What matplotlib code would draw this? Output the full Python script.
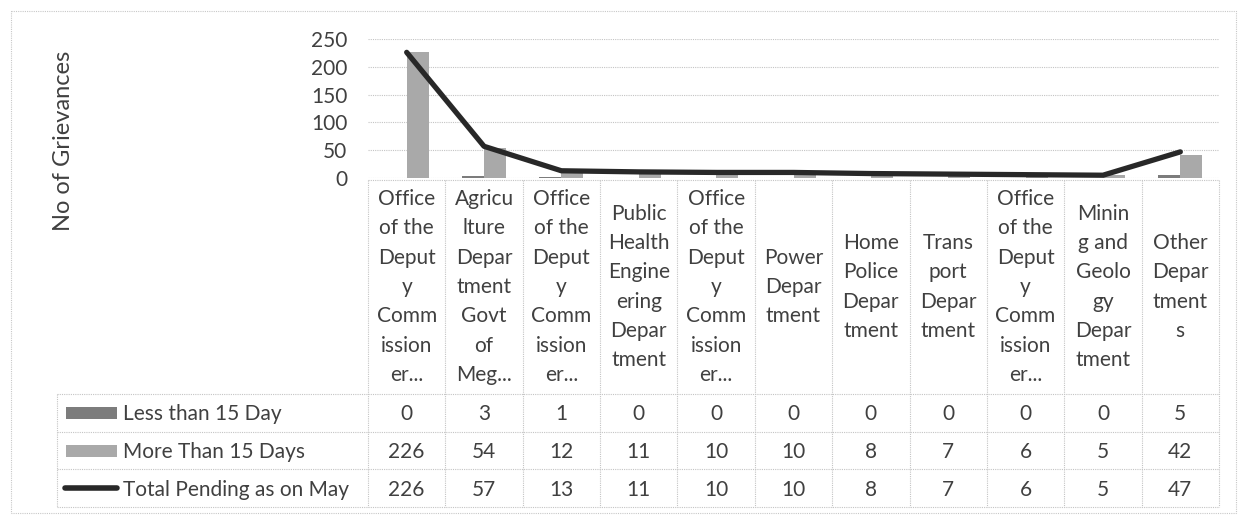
import numpy as np
import matplotlib.pyplot as plt
from matplotlib import transforms
from matplotlib.patches import Rectangle

# wrapped category labels, as they appear in the header cells
departments = [
    ["Office", "of the", "Deput", "y", "Comm", "ission", "er..."],
    ["Agricu", "lture", "Depar", "tment", "Govt", "of", "Meg..."],
    ["Office", "of the", "Deput", "y", "Comm", "ission", "er..."],
    ["Public", "Health", "Engine", "ering", "Depar", "tment"],
    ["Office", "of the", "Deput", "y", "Comm", "ission", "er..."],
    ["Power", "Depar", "tment"],
    ["Home", "Police", "Depar", "tment"],
    ["Trans", "port", "Depar", "tment"],
    ["Office", "of the", "Deput", "y", "Comm", "ission", "er..."],
    ["Minin", "g and", "Geolo", "gy", "Depar", "tment"],
    ["Other", "Depar", "tment", "s"],
]
series_names = ["Less than 15 Day", "More Than 15 Days", "Total Pending as on May"]
less_15 = [0, 3, 1, 0, 0, 0, 0, 0, 0, 0, 5]
more_15 = [226, 54, 12, 11, 10, 10, 8, 7, 6, 5, 42]
total = [226, 57, 13, 11, 10, 10, 8, 7, 6, 5, 47]
y_ticks = [0, 50, 100, 150, 200, 250]

W, H = 1241, 516
plt.rcParams['font.family'] = ['Lato', 'DejaVu Sans']
txt = '#404040'
grid_c = '#c4c4c4'
c_less = '#7c7c7c'
c_more = '#a9a9a9'
c_line = '#282828'
fs = 15

fig = plt.figure(figsize=(W / 100, H / 100), dpi=100)

# overlay in pixel units for the table / frame
ov = fig.add_axes([0, 0, 1, 1])
ov.set_xlim(0, W)
ov.set_ylim(H, 0)
ov.axis('off')

ax = fig.add_axes([368 / W, (H - 178) / H, (1219 - 368) / W, (178 - 39) / H])
ax.patch.set_alpha(0)
x = np.arange(len(total))
bw = 0.285
ax.bar(x - bw / 2, less_15, bw, color=c_less)
ax.bar(x + bw / 2, more_15, bw, color=c_more)
ax.plot(x, total, color=c_line, lw=3.8, solid_capstyle='round', solid_joinstyle='round')
ax.set_xlim(-0.5, len(total) - 0.5)
ax.set_ylim(0, 250)
ax.set_yticks(y_ticks)
ax.set_xticks([])
ax.tick_params(axis='y', length=0, pad=15, labelsize=fs, labelcolor=txt)
for s in ax.spines.values():
    s.set_visible(False)
ax.grid(axis='y', color=grid_c, ls=(0, (1, 1)), lw=0.8)
ax.set_axisbelow(True)

# x from the bar axes, y in pixels
bt = transforms.blended_transform_factory(ax.transData, ov.transData)
lkw = dict(color=grid_c, ls=(0, (1, 1)), lw=0.8)

row_edges = [394, 432, 469, 507]
n = len(total)

# header cells
ov.hlines(180, -0.5, n - 0.5, transform=bt, **lkw)
for b in np.arange(-0.5, n, 1.0):
    ov.vlines(b, 180, row_edges[-1], transform=bt, **lkw)
for y in row_edges:
    ov.hlines(y, 57, 368, **lkw)
    ov.hlines(y, -0.5, n - 0.5, transform=bt, **lkw)
ov.vlines(57, row_edges[0], row_edges[-1], **lkw)

for i, lines in enumerate(departments):
    m = len(lines)
    for k, s in enumerate(lines):
        yb = 293 + (k - (m - 1) / 2) * 29.3
        ov.text(i, yb, s, transform=bt, ha='center', va='baseline',
                fontsize=fs, color=txt)

# data rows
rows = [less_15, more_15, total]
for r, (name, vals) in enumerate(zip(series_names, rows)):
    c = (row_edges[r] + row_edges[r + 1]) / 2
    ov.text(123, c + 7.5, name, ha='left', va='baseline', fontsize=fs, color=txt)
    for i, v in enumerate(vals):
        ov.text(i, c + 7.5, str(v), transform=bt, ha='center', va='baseline',
                fontsize=fs, color=txt)
    if r < 2:
        ov.add_patch(Rectangle((66, c - 6), 51, 12, color=[c_less, c_more][r], lw=0))
    else:
        ov.plot([65, 117], [c, c], color=c_line, lw=4, solid_capstyle='round')

ov.text(63, 141, "No of Grievances", rotation=90, ha='center', va='center',
        fontsize=17, color=txt)

ov.add_patch(Rectangle((11, 11), 1225, 502, fill=False, ec='#c8c8c8',
                       ls=(0, (1, 1)), lw=0.8))

fig.savefig('out.png', dpi=100)
